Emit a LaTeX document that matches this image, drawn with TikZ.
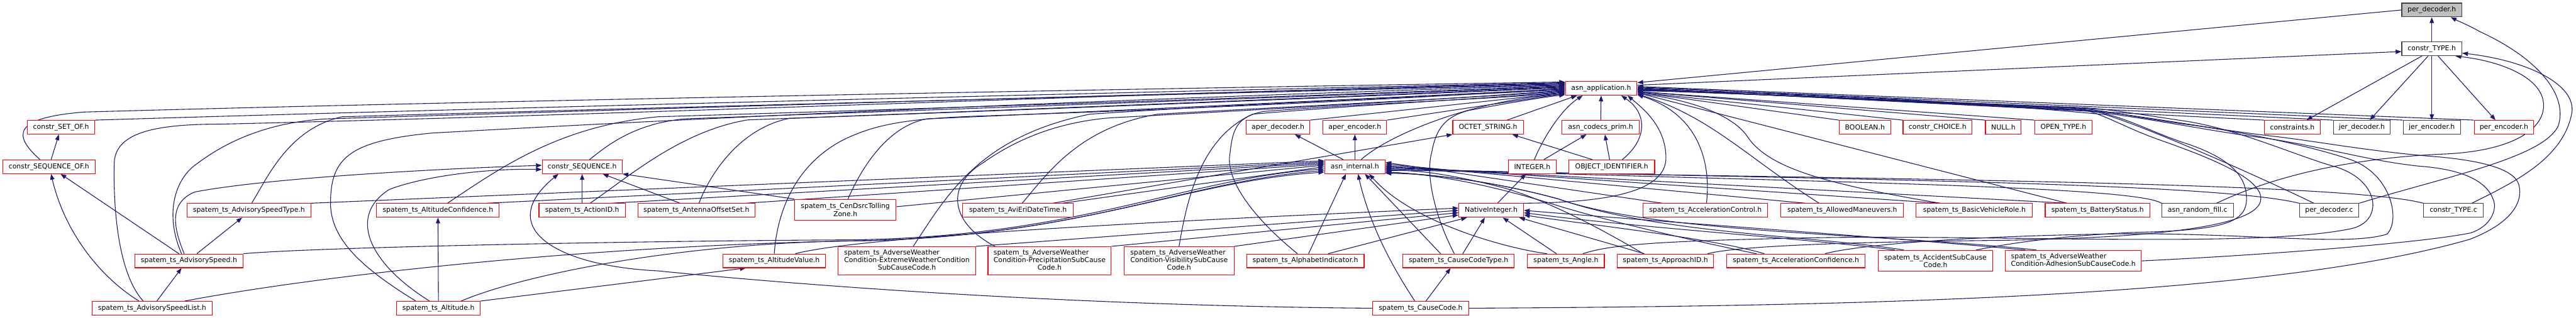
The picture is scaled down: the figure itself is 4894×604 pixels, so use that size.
\documentclass[tikz,border=0pt]{standalone}
\usepackage{fontspec}
\setmainfont{DejaVu Sans}
\usetikzlibrary{arrows.meta}
\definecolor{edgec}{HTML}{191970}
\definecolor{redc}{HTML}{FF0000}
\definecolor{blkc}{HTML}{404040}
\definecolor{rootc}{HTML}{BFBFBF}
\pgfdeclarelayer{bg}
\pgfsetlayers{bg,main}
\tikzset{
  nbox/.style={draw, line width=1.3pt, fill=white, inner sep=0pt, minimum height=26pt, font=\fontsize{13}{14.5}\selectfont, text=black, align=center},
  rd/.style={nbox, draw=redc},
  bk/.style={nbox, draw=blkc},
  gr/.style={nbox, draw=blkc, fill=rootc},
  e/.style={draw=edgec, line width=1.3pt, -{Triangle[length=11pt,width=8pt]}},
}
\begin{document}
\begin{tikzpicture}[x=1pt,y=-1pt]
\begin{pgfonlayer}{bg}
\fill[white] (0,0) rectangle (4894,604);
\end{pgfonlayer}
\useasboundingbox (0,0) rectangle (4894,604);
% ---------------- nodes
\node[gr, minimum width=114pt] (pdec) at (4620,19) {per\_decoder.h};
\node[bk, minimum width=114pt] (ctype) at (4620,93) {constr\_TYPE.h};
\node[rd, minimum width=136pt] (app) at (3042,168) {asn\_application.h};
\node[rd, minimum width=128pt] (setof) at (116,242) {constr\_SET\_OF.h};
\node[rd, minimum width=121pt] (aperdec) at (2428,242) {aper\_decoder.h};
\node[rd, minimum width=121pt] (aperenc) at (2574,242) {aper\_encoder.h};
\node[rd, minimum width=134pt] (octet) at (2827,242) {OCTET\_STRING.h};
\node[rd, minimum width=147pt] (codecs) at (3041,242) {asn\_codecs\_prim.h};
\node[rd, minimum width=98pt] (bool) at (3543,242) {BOOLEAN.h};
\node[rd, minimum width=131pt] (choice) at (3681,242) {constr\_CHOICE.h};
\node[rd, minimum width=68pt] (null) at (3806,242) {NULL.h};
\node[rd, minimum width=109pt] (opent) at (3920,242) {OPEN\_TYPE.h};
\node[rd, minimum width=106pt] (constr) at (4355,242) {constraints.h};
\node[bk, minimum width=108pt] (jerdec) at (4487,242) {jer\_decoder.h};
\node[bk, minimum width=109pt] (jerenc) at (4620,242) {jer\_encoder.h};
\node[rd, minimum width=113pt] (perenc) at (4757,242) {per\_encoder.h};
\node[rd, minimum width=175pt] (seqof) at (93,317) {constr\_SEQUENCE\_OF.h};
\node[rd, minimum width=152pt] (seq) at (1106,317) {constr\_SEQUENCE.h};
\node[rd, minimum width=115pt] (internal) at (2574,317) {asn\_internal.h};
\node[rd, minimum width=91pt] (integer) at (2911,317) {INTEGER.h};
\node[rd, minimum width=163pt] (oid) at (3062,317) {OBJECT\_IDENTIFIER.h};
\node[rd, minimum width=235pt] (speedtype) at (473,400) {spatem\_ts\_AdvisorySpeedType.h};
\node[rd, minimum width=233pt] (altconf) at (832,400) {spatem\_ts\_AltitudeConfidence.h};
\node[rd, minimum width=164pt] (actionid) at (1106,400) {spatem\_ts\_ActionID.h};
\node[rd, minimum width=222pt] (antenna) at (1323,400) {spatem\_ts\_AntennaOffsetSet.h};
\node[rd, minimum width=193pt, minimum height=40pt] (cendsrc) at (1606,399) {spatem\_ts\_CenDsrcTolling\\Zone.h};
\node[rd, minimum width=210pt] (avieri) at (1934,400) {spatem\_ts\_AviEriDateTime.h};
\node[rd, minimum width=123pt] (native) at (2833,400) {NativeInteger.h};
\node[rd, minimum width=237pt] (accctrl) at (3240,400) {spatem\_ts\_AccelerationControl.h};
\node[rd, minimum width=233pt] (allowed) at (3500,400) {spatem\_ts\_AllowedManeuvers.h};
\node[rd, minimum width=221pt] (basicveh) at (3751,400) {spatem\_ts\_BasicVehicleRole.h};
\node[rd, minimum width=199pt] (battery) at (3985,400) {spatem\_ts\_BatteryStatus.h};
\node[bk, minimum width=136pt] (randfill) at (4175,400) {asn\_random\_fill.c};
\node[bk, minimum width=113pt] (pdecc) at (4425,400) {per\_decoder.c};
\node[bk, minimum width=113pt] (ctypec) at (4661,400) {constr\_TYPE.c};
\node[rd, minimum width=206pt] (advspeed) at (359,496) {spatem\_ts\_AdvisorySpeed.h};
\node[rd, minimum width=195pt] (altval) at (1471,496) {spatem\_ts\_AltitudeValue.h};
\node[rd, minimum width=261pt, minimum height=54pt] (extreme) at (1723,496) {\begin{tabular}{@{}l@{}}spatem\_ts\_AdverseWeather\\Condition-ExtremeWeatherCondition\\\multicolumn{1}{@{}c@{}}{SubCauseCode.h}\end{tabular}};
\node[rd, minimum width=234pt, minimum height=54pt] (precip) at (1994,496) {\begin{tabular}{@{}l@{}}spatem\_ts\_AdverseWeather\\Condition-PrecipitationSubCause\\\multicolumn{1}{@{}c@{}}{Code.h}\end{tabular}};
\node[rd, minimum width=209pt, minimum height=54pt] (visib) at (2240,496) {\begin{tabular}{@{}l@{}}spatem\_ts\_AdverseWeather\\Condition-VisibilitySubCause\\\multicolumn{1}{@{}c@{}}{Code.h}\end{tabular}};
\node[rd, minimum width=223pt] (alphabet) at (2480,496) {spatem\_ts\_AlphabetIndicator.h};
\node[rd, minimum width=212pt] (cctype) at (2771,496) {spatem\_ts\_CauseCodeType.h};
\node[rd, minimum width=146pt] (angle) at (2975,496) {spatem\_ts\_Angle.h};
\node[rd, minimum width=183pt] (approach) at (3164,496) {spatem\_ts\_ApproachID.h};
\node[rd, minimum width=263pt] (accconf) at (3412,496) {spatem\_ts\_AccelerationConfidence.h};
\node[rd, minimum width=217pt, minimum height=40pt] (accident) at (3677,496) {spatem\_ts\_AccidentSubCause\\Code.h};
\node[rd, minimum width=258pt, minimum height=40pt] (adhesion) at (3939,496) {\begin{tabular}{@{}l@{}}spatem\_ts\_AdverseWeather\\Condition-AdhesionSubCauseCode.h\end{tabular}};
\node[rd, minimum width=229pt] (speedlist) at (289,586) {spatem\_ts\_AdvisorySpeedList.h};
\node[rd, minimum width=159pt] (altitude) at (833,586) {spatem\_ts\_Altitude.h};
\node[rd, minimum width=182pt] (causecode) at (2699,586) {spatem\_ts\_CauseCode.h};
% ---------------- edges
\begin{pgfonlayer}{bg}
% top
\draw[e] (ctype) -- (pdec);
\draw[e] (pdec.west) -- (app.9);
\draw[e] (app.5) -- ([yshift=-5pt]ctype.west);
\draw[e] ([xshift=-19pt]ctype.south) -- ([xshift=27pt]constr.north);
\draw[e] ([xshift=-7pt]ctype.south) -- ([xshift=15pt]jerdec.north);
\draw[e] (ctype.south) -- (jerenc.north);
\draw[e] ([xshift=12pt]ctype.south) -- ([xshift=-16pt]perenc.north);
\draw[e] (constr.north west) -- (app.0);
\draw[e] (jerdec.north west) -- (app.1);
\draw[e] (jerenc.north west) -- (app.2);
\draw[e] (perenc.north west) -- (app.3);
\draw[e] (opent.north west) -- (app.355);
\draw[e] (null.north west) -- (app.355);
\draw[e] (choice.north west) -- (app.354);
\draw[e] (bool.north west) -- (app.354);
% internal and codec cluster
\draw[e] ([xshift=-22pt]internal.north) -- ([xshift=32pt]aperdec.south);
\draw[e] (internal.north) -- (aperenc.south);
\draw[e] ([xshift=12pt]internal.north) .. controls (2640,255) and (2800,190) .. (app.189);
\draw[e] (aperdec.north east) -- (app.187);
\draw[e] (aperenc.north east) -- (app.188);
\draw[e] ([xshift=36pt]octet.north) -- ([xshift=-46pt]app.south);
\draw[e] (codecs) -- (app);
\draw[e] ([xshift=22pt]integer.north) -- ([xshift=-27pt]codecs.south);
\draw[e] ([xshift=4pt]integer.north) .. controls (2935,255) and (2970,205) .. ([xshift=-35pt]app.south);
\draw[e] ([xshift=-37pt]oid.north) -- ([xshift=46pt]octet.south);
\draw[e] ([xshift=-4pt]oid.north) -- ([xshift=8pt]codecs.south);
\draw[e] ([xshift=20pt]oid.north) .. controls (3130,265) and (3130,215) .. ([xshift=38pt]app.south);
\draw[e] ([xshift=12pt]native.north) -- ([xshift=-12pt]integer.south);
\draw[e] (native.north east) .. controls (3100,385) and (3165,350) .. (3165,300) .. controls (3165,240) and (3120,205) .. ([xshift=50pt]app.south);
% left cluster
\draw[e] (seqof) -- (setof);
\draw[e] (setof.north east) .. controls (700,212) and (2000,178) .. (app.171);
\draw[e] ([xshift=-17pt]seqof.north) .. controls (25,258) and (22,224) .. (160,213) .. controls (900,192) and (2200,168) .. (app.170);
\draw[e] ([xshift=-19pt]advspeed.north) -- ([xshift=22pt]seqof.south);
\draw[e] ([xshift=-25pt]speedlist.north) .. controls (180,520) and (120,430) .. ([xshift=4pt]seqof.south);
\draw[e] ([xshift=9pt]speedlist.north) -- ([xshift=-14pt]advspeed.south);
\draw[e] ([xshift=-17pt]speedlist.north) .. controls (225,520) and (215,400) .. (217,310) .. controls (219,250) and (300,236) .. (420,236) .. controls (1300,215) and (2300,172) .. (app.172);
\draw[e] ([xshift=62pt]speedlist.north) .. controls (600,525) and (1100,468) .. (1620,458) .. controls (2050,452) and (2250,345) .. (internal.187);
\draw[e] ([xshift=-9pt]advspeed.north) .. controls (328,430) and (322,385) .. (370,365) .. controls (500,340) and (800,322) .. (seq.178);
\draw[e] ([xshift=-14pt]advspeed.north) .. controls (313,410) and (330,340) .. (376,310) .. controls (440,262) and (520,232) .. (620,226) .. controls (1300,205) and (2300,175) .. (app.173);
\draw[e] ([xshift=15pt]advspeed.north) -- ([xshift=-13pt]speedtype.south);
\draw[e] (advspeed.north east) .. controls (600,470) and (1200,458) .. (1620,456) .. controls (2050,450) and (2250,340) .. (internal.184);
\draw[e] ([xshift=5pt]speedtype.north) .. controls (505,345) and (545,245) .. (650,222) .. controls (1400,200) and (2300,178) .. (app.174);
\draw[e] (speedtype.north east) -- (internal.169);
% altitude
\draw[e] (altitude) -- (altconf);
\draw[e] (altitude.north east) -- ([xshift=-54pt]altval.south);
\draw[e] ([xshift=-17pt]altitude.north) .. controls (700,500) and (660,410) .. (740,360) .. controls (820,330) and (950,320) .. (seq.184);
\draw[e] ([xshift=-43pt]altitude.north) .. controls (680,505) and (625,450) .. (628,380) .. controls (630,300) and (665,268) .. (820,253) .. controls (1500,215) and (2300,182) .. (app.175);
\draw[e] ([xshift=43pt]altitude.north) .. controls (1000,520) and (1300,462) .. (1620,458) .. controls (2050,452) and (2250,345) .. (internal.190);
% altconf, seq, actionid, antenna, cendsrc
\draw[e] ([xshift=18pt]altconf.north) .. controls (950,320) and (1060,240) .. (1250,222) .. controls (1900,202) and (2500,182) .. (app.176);
\draw[e] ([xshift=93pt]altconf.north) -- (internal.171);
\draw[e] ([xshift=14pt]seq.north) .. controls (1150,280) and (1200,236) .. (1300,226) .. controls (1900,204) and (2500,183) .. (app.177);
\draw[e] (actionid) -- (seq);
\draw[e] ([xshift=15pt]actionid.north) .. controls (1190,340) and (1290,250) .. (1420,228) .. controls (2000,206) and (2500,186) .. (app.178);
\draw[e] ([xshift=55pt]actionid.north) -- (internal.173);
\draw[e] ([xshift=-31pt]antenna.north) -- ([xshift=39pt]seq.south);
\draw[e] ([xshift=5pt]antenna.north) .. controls (1345,340) and (1400,245) .. (1500,225) .. controls (2000,207) and (2500,187) .. (app.179);
\draw[e] ([xshift=94pt]antenna.north) -- (internal.175);
\draw[e] (cendsrc.north west) -- (seq.south east);
\draw[e] ([xshift=5pt]cendsrc.north) .. controls (1632,330) and (1680,242) .. (1760,226) .. controls (2200,207) and (2600,187) .. (app.181);
\draw[e] ([yshift=6pt]cendsrc.east) -- (internal.177);
% altval, weather
\draw[e] (altval.north) .. controls (1475,420) and (1500,320) .. (1600,267) .. controls (1660,237) and (1720,226) .. (1850,221) .. controls (2300,206) and (2700,186) .. (app.180);
\draw[e] ([xshift=40pt]altval.north) .. controls (1650,445) and (2400,412) .. (native.176);
\draw[e] ([xshift=12pt]extreme.north) .. controls (1800,370) and (1860,260) .. (2071,217) .. controls (2400,195) and (2800,180) .. (app.182);
\draw[e] (extreme.north east) -- (native.180);
\draw[e] ([xshift=-104pt]precip.north) .. controls (1800,420) and (1800,350) .. (1867,310) .. controls (1930,265) and (2010,232) .. (2110,224) .. controls (2500,203) and (2800,185) .. (app.183);
\draw[e] (precip.north east) -- (native.184);
\draw[e] ([xshift=8pt]avieri.north) .. controls (1990,330) and (2050,242) .. (2200,217) .. controls (2500,200) and (2800,186) .. (app.184);
\draw[e] ([xshift=66pt]avieri.north) -- (octet.south west);
\draw[e] ([xshift=84pt]avieri.north) -- (internal.180);
\draw[e] (visib.north) .. controls (2255,380) and (2280,262) .. (2380,217) .. controls (2600,198) and (2850,186) .. (app.185);
\draw[e] (visib.north east) -- (native.188);
% alphabet, cctype, causecode
\draw[e] ([xshift=-15pt]alphabet.north) .. controls (2400,430) and (2325,350) .. (2337,290) .. controls (2342,245) and (2350,222) .. (2400,212) .. controls (2600,196) and (2850,188) .. (app.186);
\draw[e] ([xshift=6pt]alphabet.north) -- ([xshift=-17pt]internal.south);
\draw[e] ([xshift=43pt]alphabet.north) -- ([xshift=-46pt]native.south);
\draw[e] ([xshift=-8pt]cctype.north) .. controls (2725,410) and (2708,330) .. (2720,290) .. controls (2728,245) and (2745,222) .. (2790,210) .. controls (2870,195) and (2930,185) .. (app.190);
\draw[e] ([xshift=-34pt]cctype.north) -- ([xshift=19pt]internal.south);
\draw[e] ([xshift=8pt]cctype.north) -- ([xshift=-12pt]native.south);
\draw[e] ([xshift=-11pt]causecode.north) .. controls (2640,500) and (2600,420) .. ([xshift=6pt]internal.south);
\draw[e] ([xshift=10pt]causecode.north) -- ([xshift=-15pt]cctype.south);
\draw[e] (causecode.west) .. controls (2100,582) and (1600,550) .. (1250,515) .. controls (1050,505) and (940,430) .. ([xshift=-45pt]seq.south);
\draw[e] (causecode.east) .. controls (3500,582) and (4300,568) .. (4692,455) .. controls (4770,425) and (4795,385) .. (4785,350) .. controls (4775,320) and (4710,305) .. (4629,298) .. controls (4500,288) and (4400,268) .. (4310,258) .. controls (4200,245) and (4060,218) .. (3960,209) .. controls (3600,191) and (3300,178) .. (app.359);
% angle, approach
\draw[e] ([xshift=-36pt]angle.north) .. controls (2850,470) and (2680,420) .. ([xshift=27pt]internal.south);
\draw[e] ([xshift=-18pt]angle.north) -- ([xshift=22pt]native.south);
\draw[e] ([xshift=32pt]angle.north) .. controls (3060,465) and (3150,458) .. (3450,452) .. controls (3800,446) and (4300,472) .. (4470,434) .. controls (4530,418) and (4520,340) .. (4433,316) .. controls (4360,295) and (4250,245) .. (4150,230) .. controls (4050,215) and (3990,205) .. (3940,204) .. controls (3600,190) and (3300,178) .. (app.357);
\draw[e] ([xshift=-42pt]approach.north) .. controls (3050,440) and (2950,385) .. (2860,358) .. controls (2760,332) and (2690,322) .. (internal.352);
\draw[e] ([xshift=-40pt]approach.north) -- ([xshift=-9pt]native.south east);
\draw[e] ([xshift=80pt]approach.north) .. controls (3300,468) and (3500,460) .. (3800,457) .. controls (4100,452) and (4290,430) .. (4295,380) .. controls (4300,340) and (4200,300) .. (4100,265) .. controls (4030,240) and (3990,212) .. (3940,205) .. controls (3600,190) and (3300,178) .. (app.358);
% accconf, accident, adhesion
\draw[e] ([xshift=-60pt]accconf.north) .. controls (3250,452) and (3000,425) .. (native.352);
\draw[e] ([xshift=-75pt]accconf.north) .. controls (3250,465) and (3050,420) .. (2950,388) .. controls (2800,342) and (2700,330) .. (internal.350);
\draw[e] ([xshift=55pt]accconf.north) .. controls (3520,468) and (3700,450) .. (4000,445) .. controls (4250,440) and (4460,470) .. (4535,445) .. controls (4560,420) and (4545,335) .. (4470,305) .. controls (4400,280) and (4260,250) .. (4150,236) .. controls (4050,222) and (3990,208) .. (3945,206) .. controls (3600,190) and (3300,178) .. (app.357);
\draw[e] ([xshift=-77pt]accident.north) .. controls (3450,455) and (3100,432) .. (native.356);
\draw[e] ([xshift=-60pt]accident.north) .. controls (3450,448) and (3150,445) .. (2960,378) .. controls (2820,340) and (2700,330) .. (internal.349);
\draw[e] ([xshift=77pt]accident.north) .. controls (3850,456) and (3950,447) .. (4050,442) .. controls (4220,438) and (4268,425) .. (4268,378) .. controls (4268,330) and (4230,300) .. (4160,275) .. controls (4080,250) and (4030,215) .. (3950,208) .. controls (3600,190) and (3300,178) .. (app.358);
\draw[e] ([xshift=-91pt]adhesion.north) .. controls (3600,452) and (3200,425) .. (native.0);
\draw[e] ([xshift=-70pt]adhesion.north) .. controls (3600,445) and (3150,445) .. (2960,378) .. controls (2820,340) and (2700,330) .. (internal.348);
\draw[e] (adhesion.east) .. controls (4300,485) and (4600,462) .. (4693,443) .. controls (4730,432) and (4745,400) .. (4737,380) .. controls (4725,345) and (4680,322) .. (4597,316) .. controls (4500,306) and (4420,280) .. (4300,262) .. controls (4200,250) and (4060,220) .. (3955,210) .. controls (3600,192) and (3300,178) .. (app.359);
% row 5 right
\draw[e] ([xshift=2pt]accctrl.north) .. controls (3250,320) and (3235,220) .. (app.350);
\draw[e] ([xshift=-82pt]accctrl.north) -- (internal.8);
\draw[e] ([xshift=-44pt]allowed.north) .. controls (3320,300) and (3250,222) .. (app.351);
\draw[e] ([xshift=-70pt]allowed.north) -- (internal.5);
\draw[e] ([xshift=-65pt]basicveh.north) .. controls (3470,350) and (3360,320) .. (3320,260) .. controls (3290,215) and (3200,188) .. (app.352);
\draw[e] ([xshift=-65pt]basicveh.north) -- (internal.2);
\draw[e] ([xshift=-58pt]battery.north) -- (app.353);
\draw[e] ([xshift=-58pt]battery.north) -- (internal.0);
% c files
\draw[e] (randfill.north west) .. controls (4050,350) and (3300,345) .. (internal.358);
\draw[e] ([xshift=36pt]randfill.north) .. controls (4330,330) and (4480,300) .. (4640,293) .. controls (4790,287) and (4845,235) .. (4830,185) .. controls (4815,140) and (4740,115) .. ([xshift=45pt]ctype.south);
\draw[e] ([xshift=-29pt]pdecc.north) .. controls (4300,340) and (4100,250) .. (4000,218) .. controls (3700,190) and (3400,175) .. (app.356);
\draw[e] (pdecc.north west) .. controls (4200,345) and (3400,340) .. (internal.356);
\draw[e] (pdecc.north east) .. controls (4650,335) and (4830,300) .. (4860,240) .. controls (4880,180) and (4820,110) .. (4711,60) .. controls (4690,48) and (4670,40) .. ([xshift=36pt]pdec.south);
\draw[e] (ctypec.north west) .. controls (4450,345) and (3500,340) .. (internal.354);
\draw[e] ([xshift=35pt]ctypec.north) .. controls (4780,345) and (4870,300) .. (4886,215) .. controls (4895,160) and (4800,115) .. ([yshift=-8pt]ctype.east);
\end{pgfonlayer}
\end{tikzpicture}
\end{document}
